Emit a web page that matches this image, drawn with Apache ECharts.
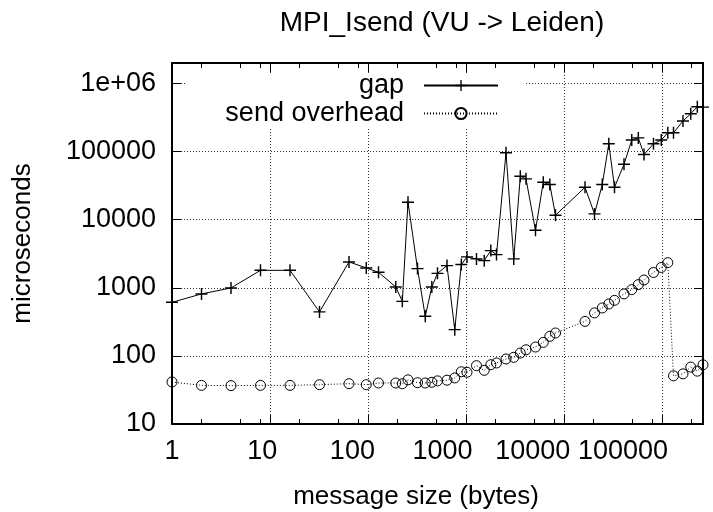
<!DOCTYPE html>
<html>
<head>
<meta charset="utf-8">
<script src="https://cdn.jsdelivr.net/npm/echarts@6/dist/echarts.min.js"></script>
<style>html,body{margin:0;padding:0;background:#fff;}#c{width:713px;height:512px;}</style>
</head>
<body>
<div id="c"></div>
<script>
// message sizes (bytes)
const sizes = [1,2,4,8,16,32,64,96,128,192,224,256,320,384,448,512,640,768,896,1024,
  1280,1536,1792,2048,2560,3072,3584,4096,5120,6144,7168,8192,16384,20480,24576,28672,
  32768,40960,49152,57344,65536,81920,98304,114688,131072,163840,196608,229376,262144];
// gap (microseconds)
const gapUs = [612,813,996,1806,1806,443,2400,1958,1688,1030,632,18030,1914,381,1030,1630,2118,243,2193,2845,
  2657,2506,3518,3071,95900,2657,43450,39800,7000,35480,32800,11620,29900,12170,32800,130000,
  29900,65000,148000,159000,90600,130000,148000,188800,188800,282000,360000,455000,450000];
// send overhead (microseconds)
const overheadUs = [41.4,36.9,36.6,36.9,36.9,37.8,39.1,37.8,40.0,40.0,39,44.5,40.4,40,41,43,44,47.5,58.5,57.5,
  71.9,61.4,74.3,78.7,90.2,95.3,110,123,135,158,194,217,321,428,506,579,
  654,813,940,1114,1300,1680,1990,2340,51,54.5,68.5,59.7,74];

const seriesNames = ['gap', 'send overhead'];
const xTickLabels = ['1','10','100','1000','10000','100000'];
const xMajorTicks = [1,10,100,1000,10000,100000];
const xMinorTicks = [2,5,8,20,50,80,200,500,800,2000,5000,8000,20000,50000,80000,200000];
const xMin = 1, xMax = 262144;
const yMin = 10, yMax = 2000000;

const FONT = 'Liberation Sans';
const lg = v => Math.log10(v);
const majorLog = xMajorTicks.map(lg);
const minorLog = xMinorTicks.map(lg);
const labelAxisMax = 5.887;

const chart = echarts.init(document.getElementById('c'), null, {renderer: 'canvas'});
const black = '#000';

function valueXAxis(extra) {
  return Object.assign({
    type: 'value', gridIndex: 0, min: 0, max: lg(xMax),
    axisLine: {show: false, onZero: false},
    axisTick: {show: false},
    axisLabel: {show: false},
    splitLine: {show: false}
  }, extra);
}

chart.setOption({
  animation: false,
  backgroundColor: '#fff',
  title: {
    text: 'MPI_Isend (VU -> Leiden)',
    left: 437, top: 4, textAlign: 'center',
    textStyle: {fontFamily: FONT, fontSize: 28, fontWeight: 'normal', color: black}
  },
  legend: {
    data: seriesNames,
    orient: 'vertical', align: 'right',
    right: 214, top: 72, padding: 0,
    itemWidth: 74, itemHeight: 14, itemGap: 1,
    textStyle: {fontFamily: FONT, fontSize: 27, color: black, padding: [0, 15, 0, 0]}
  },
  grid: {left: 172, right: 10, top: 63, bottom: 88, outerBoundsMode: 'none', containLabel: false},
  graphic: [{
    type: 'rect', z: 1,
    shape: {x: 186, y: 73, width: 339, height: 55},
    style: {fill: '#fff'}
  }],
  xAxis: [
    {type: 'log', logBase: 10, min: xMin, max: xMax, show: false},
    valueXAxis({
      position: 'bottom',
      axisLine: {show: true, onZero: false, lineStyle: {color: black, width: 2}},
      axisTick: {show: true, inside: true, length: 9, customValues: majorLog, lineStyle: {color: black, width: 1}},
      splitLine: {show: true, lineStyle: {color: '#333', width: 1, type: [1, 2]}}
    }),
    valueXAxis({
      position: 'bottom',
      axisTick: {show: true, inside: true, length: 5, customValues: minorLog, lineStyle: {color: black, width: 1}}
    }),
    valueXAxis({
      position: 'top',
      axisLine: {show: true, onZero: false, lineStyle: {color: black, width: 2}},
      axisTick: {show: true, inside: true, length: 9, customValues: majorLog, lineStyle: {color: black, width: 1}}
    }),
    valueXAxis({
      position: 'top',
      axisTick: {show: true, inside: true, length: 5, customValues: minorLog, lineStyle: {color: black, width: 1}}
    }),
    valueXAxis({
      position: 'bottom', max: labelAxisMax,
      axisLabel: {
        show: true, customValues: [0,1,2,3,4,5], margin: 14,
        fontFamily: FONT, fontSize: 27, color: black,
        formatter: v => xTickLabels[Math.round(v)]
      },
      name: 'message size (bytes)', nameLocation: 'middle', nameGap: 60,
      nameTextStyle: {fontFamily: FONT, fontSize: 26, color: black, padding: [0, 43, 0, 0]}
    })
  ],
  yAxis: [
    {
      type: 'log', logBase: 10, min: yMin, max: yMax, interval: 1, position: 'left',
      axisLine: {show: true, onZero: false, lineStyle: {color: black, width: 2}},
      axisTick: {show: true, inside: true, length: 9, lineStyle: {color: black, width: 1}},
      minorTick: {show: false},
      splitLine: {show: true, lineStyle: {color: '#333', width: 1, type: [1, 2]}},
      axisLabel: {
        margin: 16, fontFamily: FONT, fontSize: 27, color: black,
        formatter: v => {
          const e = Math.log10(v);
          if (Math.abs(e - Math.round(e)) > 1e-6) return '';
          const r = Math.round(e);
          return r >= 6 ? '1e+0' + r : String(Math.pow(10, r));
        }
      },
      name: 'microseconds', nameLocation: 'middle', nameGap: 136, nameRotate: 90,
      nameTextStyle: {fontFamily: FONT, fontSize: 26, color: black}
    },
    {
      type: 'log', logBase: 10, min: yMin, max: yMax, interval: 1, position: 'right',
      axisLine: {show: true, onZero: false, lineStyle: {color: black, width: 2}},
      axisTick: {show: true, inside: true, length: 9, lineStyle: {color: black, width: 1}},
      axisLabel: {show: false},
      splitLine: {show: false}
    }
  ],
  series: [
    {
      name: seriesNames[0], type: 'line', xAxisIndex: 0, yAxisIndex: 0,
      data: sizes.map((s, i) => [s, gapUs[i]]),
      symbol: 'path://M4.4,0h1.2v4.4h4.4v1.2h-4.4v4.4h-1.2v-4.4h-4.4v-1.2h4.4z',
      symbolSize: 12, showSymbol: true, showAllSymbol: true,
      lineStyle: {color: black, width: 1, type: 'solid'},
      itemStyle: {color: black},
      emphasis: {disabled: true}, z: 3
    },
    {
      name: seriesNames[1], type: 'line', xAxisIndex: 0, yAxisIndex: 0,
      data: sizes.map((s, i) => [s, overheadUs[i]]),
      symbol: 'circle', symbolSize: 10, showSymbol: true, showAllSymbol: true,
      lineStyle: {color: black, width: 1, type: [1, 2]},
      itemStyle: {color: 'rgba(0,0,0,0)', borderColor: black, borderWidth: 1},
      emphasis: {disabled: true}, z: 3
    }
  ]
});
</script>
</body>
</html>
